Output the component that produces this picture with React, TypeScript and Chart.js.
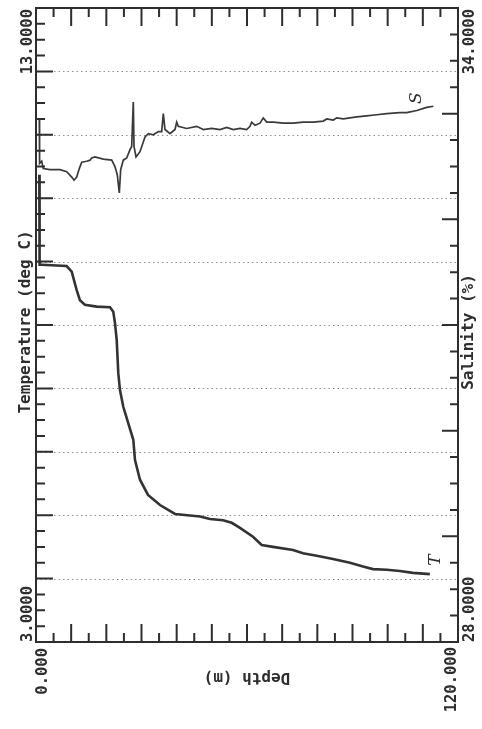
import { useEffect, useRef } from "react";
import { Chart, registerables } from "chart.js";

Chart.register(...registerables);

// Temperature profile (deg C) against depth (m)
const tempDepth = [0.94, 1.02, 1.6, 8.7, 10.15, 11.57, 12.5, 13.9, 17.26, 21.04, 21.98, 22.46, 22.95, 23.4, 23.89, 24.82, 26.25, 27.67, 28.15, 29.57, 31.85, 35.26, 39.53, 46.63, 49.47, 53.17, 55.65, 58.0, 61.7, 64.18, 67.39, 73.08, 75.92, 79.82, 84.45, 89.29, 92.98, 95.82, 99.72, 103.5, 107.2, 112.0];
const temperature = [10.37, 8.95, 8.95, 8.93, 8.84, 8.55, 8.39, 8.32, 8.29, 8.28, 8.21, 8.03, 7.76, 7.24, 6.97, 6.71, 6.45, 6.19, 5.87, 5.56, 5.32, 5.16, 5.02, 4.98, 4.94, 4.92, 4.88, 4.8, 4.66, 4.53, 4.5, 4.45, 4.4, 4.36, 4.31, 4.25, 4.19, 4.15, 4.14, 4.12, 4.09, 4.07];

// Salinity profile (%) against depth (m)
const salDepth = [0.94, 1.02, 1.62, 2.08, 3.98, 6.82, 8.73, 10.15, 10.81, 11.57, 12.31, 13.0, 14.42, 15.36, 15.84, 16.78, 19.14, 21.53, 22.46, 23.12, 23.69, 24.08, 24.82, 25.79, 26.73, 27.21, 27.67, 27.87, 28.44, 29.57, 31.0, 31.93, 33.36, 34.78, 35.74, 36.2, 36.68, 38.1, 39.53, 40.0, 40.46, 42.85, 45.7, 47.57, 49.96, 52.32, 54.23, 56.1, 58.0, 59.9, 60.85, 61.34, 62.27, 63.7, 64.63, 65.6, 67.48, 70.32, 73.17, 76.0, 78.85, 81.7, 82.66, 84.54, 85.5, 87.4, 91.2, 94.0, 96.9, 99.7, 103.5, 105.4, 108.3, 111.1, 113.0];
const salinity = [32.94, 32.53, 32.55, 32.48, 32.47, 32.47, 32.45, 32.4, 32.37, 32.4, 32.48, 32.54, 32.55, 32.56, 32.58, 32.59, 32.57, 32.56, 32.5, 32.42, 32.25, 32.47, 32.56, 32.58, 32.66, 32.69, 33.11, 32.69, 32.59, 32.64, 32.78, 32.81, 32.8, 32.83, 32.83, 33.0, 32.85, 32.81, 32.85, 32.92, 32.88, 32.86, 32.88, 32.85, 32.86, 32.85, 32.87, 32.85, 32.86, 32.85, 32.88, 32.92, 32.89, 32.91, 32.96, 32.92, 32.92, 32.91, 32.91, 32.92, 32.92, 32.93, 32.95, 32.94, 32.96, 32.95, 32.97, 32.98, 32.99, 33.0, 33.01, 33.01, 33.03, 33.06, 33.07];

// Axis ranges and end labels
const depthRange = [0, 120];
const tempRange = [3, 13];
const salRange = [28, 34];
const depthLabels = ["0.000", "120.000"];
const tempLabels = ["3.0000", "13.0000"];
const salLabels = ["28.0000", "34.0000"];
const depthTitle = "Depth (m)";
const tempTitle = "Temperature (deg C)";
const salTitle = "Salinity (%)";
const curveNotes = ["T", "S"];

const INK = "#2e2e2e";
const MONO = "'DejaVu Sans Mono', 'Liberation Mono', monospace";

function rotatedText(
  ctx: CanvasRenderingContext2D,
  text: string,
  x: number,
  y: number,
  angle: number,
  align: CanvasTextAlign,
  font: string
) {
  ctx.save();
  ctx.translate(x, y);
  ctx.rotate(angle);
  ctx.font = font;
  ctx.fillStyle = INK;
  ctx.textAlign = align;
  ctx.textBaseline = "middle";
  ctx.fillText(text, 0, 0);
  ctx.restore();
}

const plotFrame = {
  id: "plotFrame",
  beforeDatasetsDraw(chart: any) {
    const { ctx, chartArea: a, scales } = chart;
    const yT = scales.yT;
    // dotted grid at every whole degree
    ctx.save();
    ctx.strokeStyle = "#8f8f8f";
    ctx.lineWidth = 1;
    ctx.setLineDash([1.5, 3]);
    for (let t = tempRange[0] + 1; t < tempRange[1]; t++) {
      const y = Math.round(yT.getPixelForValue(t)) + 0.5;
      ctx.beginPath();
      ctx.moveTo(a.left, y);
      ctx.lineTo(a.right, y);
      ctx.stroke();
    }
    ctx.restore();
  },
  afterDatasetsDraw(chart: any) {
    const { ctx, chartArea: a, scales } = chart;
    const x = scales.x;
    const yT = scales.yT;
    const yS = scales.yS;
    ctx.save();
    ctx.strokeStyle = INK;
    ctx.lineWidth = 2;
    ctx.strokeRect(a.left, a.top, a.right - a.left, a.bottom - a.top);

    ctx.lineWidth = 2;
    ctx.beginPath();
    // depth ticks on top and bottom edges, every 5 m
    for (let d = depthRange[0] + 5; d < depthRange[1]; d += 5) {
      const px = x.getPixelForValue(d);
      const len = d % 10 === 0 ? 18 : 9;
      ctx.moveTo(px, a.top);
      ctx.lineTo(px, a.top + len);
      ctx.moveTo(px, a.bottom);
      ctx.lineTo(px, a.bottom - len);
    }
    // temperature ticks on the left edge, every 0.25 deg
    for (let i = 1; i < (tempRange[1] - tempRange[0]) * 4; i++) {
      const v = tempRange[0] + i * 0.25;
      const py = yT.getPixelForValue(v);
      const len = i % 4 === 0 ? 17 : 9;
      ctx.moveTo(a.left, py);
      ctx.lineTo(a.left + len, py);
    }
    // salinity ticks on the right edge, every 0.25
    for (let i = 1; i < (salRange[1] - salRange[0]) * 4; i++) {
      const v = salRange[0] + i * 0.25;
      const py = yS.getPixelForValue(v);
      const len = i % 4 === 0 ? 16 : 8;
      ctx.moveTo(a.right, py);
      ctx.lineTo(a.right - len, py);
    }
    ctx.stroke();
    ctx.restore();

    const tickFont = `bold 15.5px ${MONO}`;
    const titleFont = `bold 16px ${MONO}`;
    const up = -Math.PI / 2;

    rotatedText(ctx, tempLabels[1], 28, yT.getPixelForValue(tempRange[1]) + 1, up, "right", tickFont);
    rotatedText(ctx, tempLabels[0], 28, yT.getPixelForValue(tempRange[0]), up, "left", tickFont);
    rotatedText(ctx, salLabels[1], 470, yS.getPixelForValue(salRange[1]) + 1, up, "right", tickFont);
    rotatedText(ctx, salLabels[0], 470, yS.getPixelForValue(salRange[0]), up, "left", tickFont);
    rotatedText(ctx, depthLabels[0], x.getPixelForValue(depthRange[0]) + 7, a.bottom + 6, up, "right", tickFont);
    rotatedText(ctx, depthLabels[1], x.getPixelForValue(depthRange[1]) - 6, a.bottom + 5, up, "right", tickFont);

    rotatedText(ctx, tempTitle, 26, (a.top + a.bottom) / 2 - 3, up, "center", titleFont);
    rotatedText(ctx, salTitle, 469, (a.top + a.bottom) / 2 + 7, up, "center", titleFont);
    rotatedText(ctx, depthTitle, (a.left + a.right) / 2, a.bottom + 35, Math.PI, "center", titleFont);

    // pencilled curve names beside the ends of the traces
    const noteFont = "italic 17px 'DejaVu Serif', serif";
    const tEnd = tempDepth.length - 1;
    const sEnd = salDepth.length - 1;
    rotatedText(ctx, curveNotes[0], x.getPixelForValue(tempDepth[tEnd]) + 6, yT.getPixelForValue(temperature[tEnd]) - 14, up, "center", noteFont);
    rotatedText(ctx, curveNotes[1], x.getPixelForValue(salDepth[sEnd]) - 17, yS.getPixelForValue(salinity[sEnd]) - 8, up, "center", noteFont);
  },
};

export default function App() {
  const ref = useRef<HTMLCanvasElement | null>(null);

  useEffect(() => {
    const canvas = ref.current;
    if (!canvas) return;
    const chart = new Chart(canvas, {
      type: "line",
      data: {
        datasets: [
          {
            label: "Temperature",
            data: tempDepth.map((d, i) => ({ x: d, y: temperature[i] })),
            yAxisID: "yT",
            borderColor: "#333333",
            borderWidth: 2.6,
            pointRadius: 0,
            tension: 0,
          },
          {
            label: "Salinity",
            data: salDepth.map((d, i) => ({ x: d, y: salinity[i] })),
            yAxisID: "yS",
            borderColor: "#3a3a3a",
            borderWidth: 1.7,
            pointRadius: 0,
            tension: 0,
          },
        ],
      },
      options: {
        animation: false,
        responsive: false,
        devicePixelRatio: 1,
        layout: { padding: { left: 36, top: 8, right: 24, bottom: 87 } },
        plugins: { legend: { display: false }, tooltip: { enabled: false } },
        scales: {
          x: { type: "linear", min: depthRange[0], max: depthRange[1], display: false },
          yT: { type: "linear", position: "left", min: tempRange[0], max: tempRange[1], display: false },
          yS: { type: "linear", position: "right", min: salRange[0], max: salRange[1], display: false },
        },
      },
      plugins: [plotFrame],
    });
    return () => chart.destroy();
  }, []);

  return (
    <div style={{ position: "absolute", left: 0, top: 0, width: 482, height: 729, background: "#ffffff" }}>
      <canvas ref={ref} width={482} height={729} />
    </div>
  );
}
